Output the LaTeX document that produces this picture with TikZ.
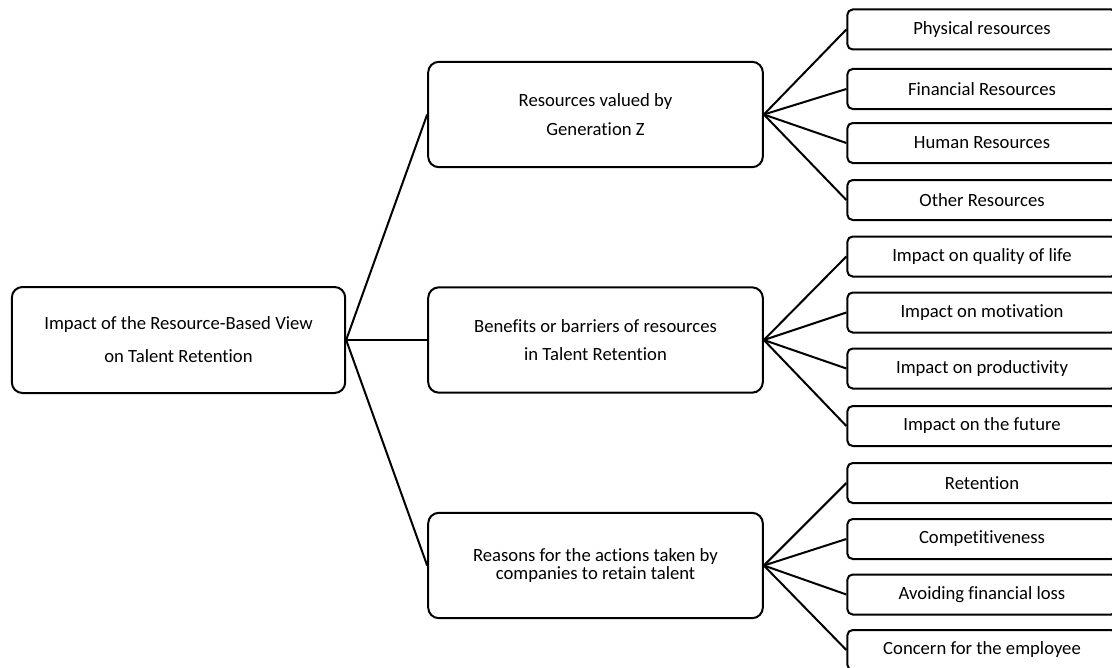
\documentclass[tikz,border=0pt]{standalone}
\usepackage{fontspec}
\setmainfont{Carlito}[Ligatures=NoCommon]
\usetikzlibrary{positioning}

\begin{document}
\begin{tikzpicture}[x=0.75pt, y=-0.75pt, font=\fontsize{14}{17}\selectfont,
  rootbox/.style={draw, line width=1.5pt, rounded corners=8pt, minimum width=250pt, minimum height=79.5pt, align=center, inner sep=0pt},
  midbox/.style={draw, line width=1.5pt, rounded corners=8pt, minimum width=251pt, minimum height=79pt, align=center, inner sep=0pt},
  leafbox/.style={draw, line width=1.5pt, rounded corners=4pt, minimum width=202pt, minimum height=30pt, align=center, inner sep=0pt},
  link/.style={line width=1.5pt}]
\clip (0,0) rectangle (1112,667);
% root
\node[rootbox] (rbv) at (178.5,340) {Impact of the Resource-Based View\\[7.75pt]on Talent Retention};
% second level
\node[midbox] (res) at (595.5,114.5) {Resources valued by\\[4.75pt]Generation Z};
\node[midbox] (ben) at (595.5,340) {Benefits or barriers of resources\\[4pt]in Talent Retention};
\node[midbox, font=\fontsize{14}{13.5}\selectfont] (rea) at (595.5,565.5) {Reasons for the actions taken by\\companies to retain talent};
\draw[link] (rbv.east)--(res.west); \draw[link] (rbv.east)--(ben.west); \draw[link] (rbv.east)--(rea.west);
% leaves: resources
\node[leafbox] (phy) at (982,29.5) {Physical resources};
\node[leafbox] (fin) at (982,89) {Financial Resources};
\node[leafbox] (hum) at (982,143) {Human Resources};
\node[leafbox] (oth) at (982,200) {Other Resources};
\foreach \n in {phy,fin,hum,oth} \draw[link] (res.east)--(\n.west);
% leaves: benefits or barriers
\node[leafbox] (qol) at (982,256.5) {Impact on quality of life};
\node[leafbox] (mot) at (982,312.5) {Impact on motivation};
\node[leafbox] (pro) at (982,368.5) {Impact on productivity};
\node[leafbox] (fut) at (982,426) {Impact on the future};
\foreach \n in {qol,mot,pro,fut} \draw[link] (ben.east)--(\n.west);
% leaves: reasons
\node[leafbox] (ret) at (982,483) {Retention};
\node[leafbox] (com) at (982,539) {Competitiveness};
\node[leafbox] (los) at (982,594.5) {Avoiding financial loss};
\node[leafbox] (emp) at (982,650) {Concern for the employee};
\foreach \n in {ret,com,los,emp} \draw[link] (rea.east)--(\n.west);
\end{tikzpicture}
\end{document}
